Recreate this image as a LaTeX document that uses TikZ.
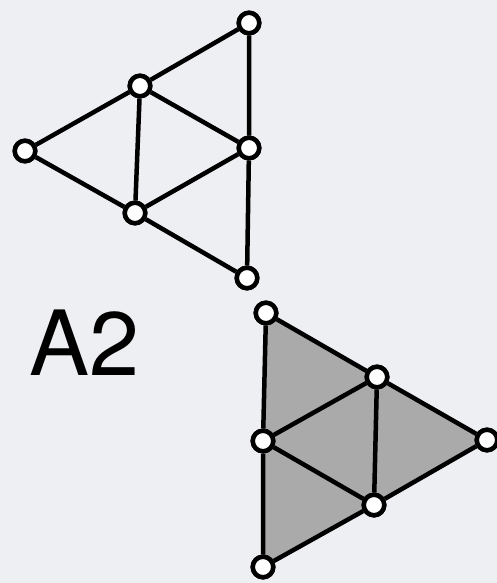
\documentclass[tikz,border=0pt]{standalone}
\usepackage{fontspec}
\setmainfont{TeX Gyre Heros}
\definecolor{bg}{HTML}{EEEFF2}
\definecolor{tri}{HTML}{AAAAAA}
\begin{document}
\begin{tikzpicture}[x=1pt,y=-1pt,
  vtx/.style={circle,draw=black,fill=white,line width=4.5pt,minimum size=20.5pt,inner sep=0pt},
  edge/.style={line width=4.5pt,black}]
\fill[bg] (0,0) rectangle (497,583);
\useasboundingbox (0,0) rectangle (497,583);
% top triangle
\node[vtx] (a1) at (249,23) {};
\node[vtx] (a2) at (25,151) {};
\node[vtx] (a3) at (247,278) {};
\node[vtx] (m1) at (140,86) {};
\node[vtx] (m2) at (249,148) {};
\node[vtx] (m3) at (135,213) {};
% bottom triangle
\fill[tri] (266,313) -- (487,440) -- (263,567) -- cycle;
\node[vtx] (b1) at (266,313) {};
\node[vtx] (b2) at (487,440) {};
\node[vtx] (b3) at (263,567) {};
\node[vtx] (n1) at (377,377) {};
\node[vtx] (n2) at (263,441) {};
\node[vtx] (n3) at (374,505) {};
\draw[edge] (a1) -- (m1) -- (a2) -- (m3) -- (a3) -- (m2) -- (a1);
\draw[edge] (m1) -- (m2) -- (m3) -- (m1);
\draw[edge] (b1) -- (n1) -- (b2) -- (n3) -- (b3) -- (n2) -- (b1);
\draw[edge] (n1) -- (n2) -- (n3) -- (n1);
\foreach \n in {a1,a2,a3,m1,m2,m3,b1,b2,b3,n1,n2,n3} \node[vtx] at (\n) {};
\node[anchor=base west,inner sep=0pt,font=\fontsize{90}{90}\selectfont] (lbl) at (29,375) {A2};
\end{tikzpicture}
\end{document}
